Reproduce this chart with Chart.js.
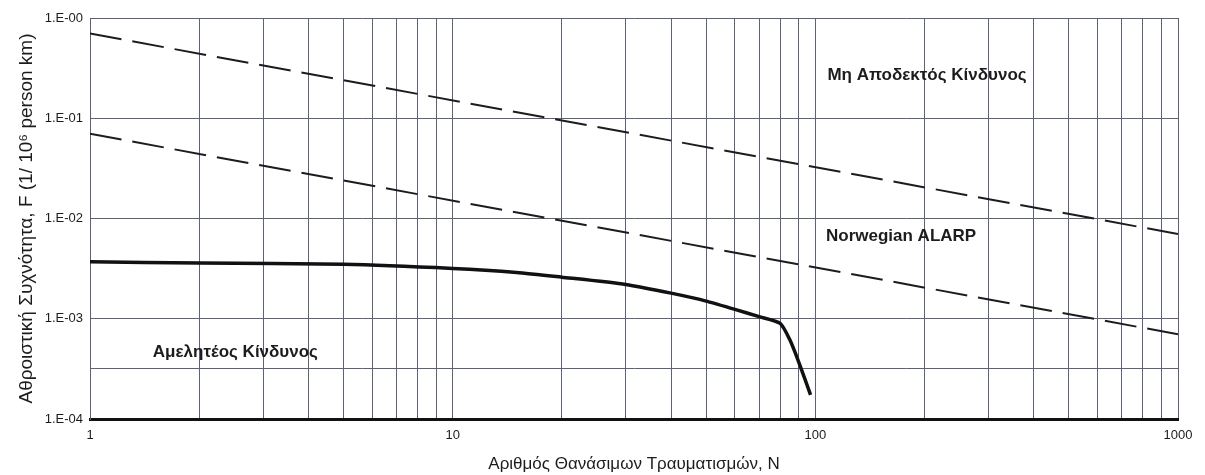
<!DOCTYPE html>
<html>
<head>
<meta charset="utf-8">
<script src="https://cdn.jsdelivr.net/npm/chart.js@4/dist/chart.umd.min.js"></script>
<style>
  html, body { margin: 0; padding: 0; background: #fff; }
  #wrap { width: 1205px; height: 475px; position: relative; }
</style>
</head>
<body>
<div id="wrap"><canvas id="fn"></canvas></div>
<script>
// --- data ---
const curveN = [1, 2, 5, 10, 15, 20, 30, 40, 50, 60, 70, 80, 85, 90, 97];
const curveF = [0.0037, 0.0036, 0.0035, 0.00318, 0.0029, 0.0026, 0.0022, 0.0018, 0.0015, 0.00124, 0.00105, 0.0009, 0.00062, 0.00037, 0.000174];

const upperN = [1, 1000];
const upperF = [0.7, 0.007];
const lowerN = [1, 1000];
const lowerF = [0.07, 0.0007];

const xGridValues = [1, 2, 3, 4, 5, 6, 7, 8, 9, 10, 20, 30, 40, 50, 60, 70, 80, 90, 100,
  200, 300, 400, 500, 600, 700, 800, 900, 1000];
const xTickLabels = { 1: '1', 10: '10', 100: '100', 1000: '1000' };
const yGridValues = [0.0001, 0.000316, 0.001, 0.01, 0.1, 1];
const yTickLabels = { 0.0001: '1.E-04', 0.001: '1.E-03', 0.01: '1.E-02', 0.1: '1.E-01', 1: '1.E-00' };

const zoneLabels = [
  { text: 'Μη Αποδεκτός Κίνδυνος', n: 108, f: 0.27 },
  { text: 'Norwegian ALARP', n: 107, f: 0.0066 },
  { text: 'Αμελητέος Κίνδυνος', n: 1.49, f: 0.00046 }
];

const ink = '#1c1c1c';
const gridCol = '#5c6274';
const fam = '"Liberation Sans", Arial, sans-serif';
const pts = (xs, ys) => xs.map((x, i) => ({ x: x, y: ys[i] }));

// draw the zone labels at data coordinates
const zoneText = {
  id: 'zoneText',
  afterDatasetsDraw(chart) {
    const ctx = chart.ctx;
    ctx.save();
    ctx.font = 'bold 17px ' + fam;
    ctx.fillStyle = ink;
    ctx.textBaseline = 'middle';
    ctx.textAlign = 'left';
    zoneLabels.forEach(z => {
      ctx.fillText(z.text, chart.scales.x.getPixelForValue(z.n), chart.scales.y.getPixelForValue(z.f));
    });
    ctx.restore();
  }
};

new Chart(document.getElementById('fn'), {
  type: 'line',
  data: {
    datasets: [
      {
        data: pts(upperN, upperF),
        borderColor: ink, borderWidth: 2, borderDash: [32, 11],
        pointRadius: 0, fill: false
      },
      {
        data: pts(lowerN, lowerF),
        borderColor: ink, borderWidth: 2, borderDash: [32, 11],
        pointRadius: 0, fill: false
      },
      {
        data: pts(curveN, curveF),
        borderColor: '#111', borderWidth: 3.5,
        pointRadius: 0, fill: false, tension: 0.2
      }
    ]
  },
  options: {
    responsive: true,
    maintainAspectRatio: false,
    animation: false,
    layout: { padding: { top: 18, right: 27, left: 15, bottom: 0 } },
    plugins: { legend: { display: false }, tooltip: { enabled: false } },
    scales: {
      x: {
        type: 'logarithmic', min: 1, max: 1000,
        afterBuildTicks: s => { s.ticks = xGridValues.map(v => ({ value: v })); },
        afterFit: s => { s.height = 56; },
        grid: { color: gridCol, lineWidth: 1, drawTicks: false },
        border: { display: true, color: '#111', width: 3 },
        ticks: {
          autoSkip: false, maxRotation: 0, padding: 9,
          color: ink, font: { family: fam, size: 13 },
          callback: v => xTickLabels[v] || ''
        },
        title: {
          display: true, text: 'Αριθμός Θανάσιμων Τραυματισμών, N',
          color: ink, font: { family: fam, size: 17 },
          padding: { top: 2, bottom: 0 }
        }
      },
      y: {
        type: 'logarithmic', min: 0.0001, max: 1,
        afterBuildTicks: s => { s.ticks = yGridValues.map(v => ({ value: v })); },
        afterFit: s => { s.width = 75; },
        grid: { color: gridCol, lineWidth: 1, drawTicks: false },
        border: { display: true, color: gridCol, width: 1 },
        ticks: {
          autoSkip: false, padding: 7,
          color: ink, font: { family: fam, size: 13 },
          callback: v => yTickLabels[v] || ''
        },
        title: {
          display: true, text: 'Αθροιστική Συχνότητα, F (1/ 10⁶ person km)',
          color: ink, font: { family: fam, size: 19 },
          padding: { top: 0, bottom: 0 }
        }
      }
    }
  },
  plugins: [zoneText]
});
</script>
</body>
</html>
